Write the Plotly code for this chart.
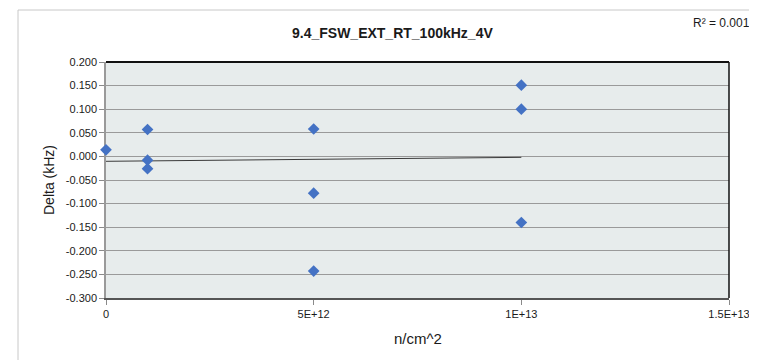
import plotly.graph_objects as go

# Data
dose = [0, 1e12, 1e12, 1e12, 5e12, 5e12, 5e12, 1e13, 1e13, 1e13]
delta = [0.014, 0.057, -0.008, -0.026, 0.058, -0.078, -0.243, 0.151, 0.100, -0.140]
trend_x = [0, 1e13]
trend_y = [-0.0104, -0.0020]
x_tickvals = [0, 5e12, 1e13, 1.5e13]
x_ticktext = ["0", "5E+12", "1E+13", "1.5E+13"]
y_tickvals = [0.2, 0.15, 0.1, 0.05, 0.0, -0.05, -0.1, -0.15, -0.2, -0.25, -0.3]
y_ticktext = ["0.200", "0.150", "0.100", "0.050", "0.000", "-0.050", "-0.100",
              "-0.150", "-0.200", "-0.250", "-0.300"]
title_text = "9.4_FSW_EXT_RT_100kHz_4V"
r2_text = "R\u00b2 = 0.0011"
x_title = "n/cm^2"
y_title = "Delta (kHz)"

W, H = 757, 360
ML, MR, MT, MB = 98, 36, 54, 70
PW = W - ML - MR
PH = H - MT - MB


def px(x):
    return (x - ML) / PW


def py(y):
    return (H - MB - y) / PH


FONT = "Liberation Sans"

fig = go.Figure()
fig.add_trace(go.Scatter(
    x=trend_x, y=trend_y, mode="lines",
    line=dict(color="#3a3a3a", width=1), showlegend=False, hoverinfo="skip"))
fig.add_trace(go.Scatter(
    x=dose, y=delta, mode="markers", cliponaxis=False,
    marker=dict(symbol="diamond", size=9, color="#4472C4"),
    showlegend=False))

shapes = [
    # outer chart border
    dict(type="rect", xref="paper", yref="paper", x0=px(10), x1=px(765), y0=py(358), y1=py(2),
         line=dict(color="#c8c8c8", width=1), fillcolor="rgba(0,0,0,0)", layer="below"),
    # plot frame (top and right)
    dict(type="line", xref="x domain", yref="y domain", x0=0, x1=1, y0=1, y1=1,
         line=dict(color="#111111", width=2), layer="above"),
    dict(type="line", xref="x domain", yref="y domain", x0=1, x1=1, y0=0, y1=1,
         line=dict(color="#111111", width=1.5), layer="above"),
]

annotations = [
    dict(text="<b>" + title_text + "</b>", xref="paper", yref="paper", x=px(384), y=py(25),
         showarrow=False, xanchor="center", yanchor="middle",
         font=dict(family=FONT, size=14, color="#1a1a1a")),
    dict(text=r2_text, xref="paper", yref="paper", x=px(716), y=py(15),
         showarrow=False, xanchor="center", yanchor="middle",
         font=dict(family=FONT, size=12, color="#1a1a1a")),
    dict(text=y_title, xref="paper", yref="paper", x=px(41), y=py(172), textangle=-90,
         showarrow=False, xanchor="center", yanchor="middle",
         font=dict(family=FONT, size=14, color="#1a1a1a")),
    dict(text=x_title, xref="paper", yref="paper", x=px(410), y=py(330),
         showarrow=False, xanchor="center", yanchor="middle",
         font=dict(family=FONT, size=15, color="#1a1a1a")),
]

fig.update_layout(
    width=W, height=H,
    margin=dict(l=ML, r=MR, t=MT, b=MB, pad=0),
    paper_bgcolor="white",
    plot_bgcolor="#e7ecec",
    font=dict(family=FONT, size=11, color="#1a1a1a"),
    shapes=shapes,
    annotations=annotations,
    xaxis=dict(range=[0, 1.5e13], tickmode="array", tickvals=x_tickvals, ticktext=x_ticktext,
               showgrid=False, zeroline=False, showline=True, linecolor="#555555", linewidth=1.5,
               layer="below traces",
               ticks="outside", ticklen=5, tickcolor="#8a8a8a", tickwidth=1,
               tickfont=dict(family=FONT, size=11, color="#1a1a1a")),
    yaxis=dict(range=[-0.3, 0.2], tickmode="array", tickvals=y_tickvals, ticktext=y_ticktext,
               showgrid=True, gridcolor="#9a9a9a", gridwidth=1, zeroline=False,
               showline=True, linecolor="#9a9a9a", linewidth=1.5, layer="below traces",
               ticks="outside", ticklen=5, tickcolor="#8a8a8a", tickwidth=1,
               tickfont=dict(family=FONT, size=11, color="#1a1a1a")),
)

fig.write_html("out.html")
